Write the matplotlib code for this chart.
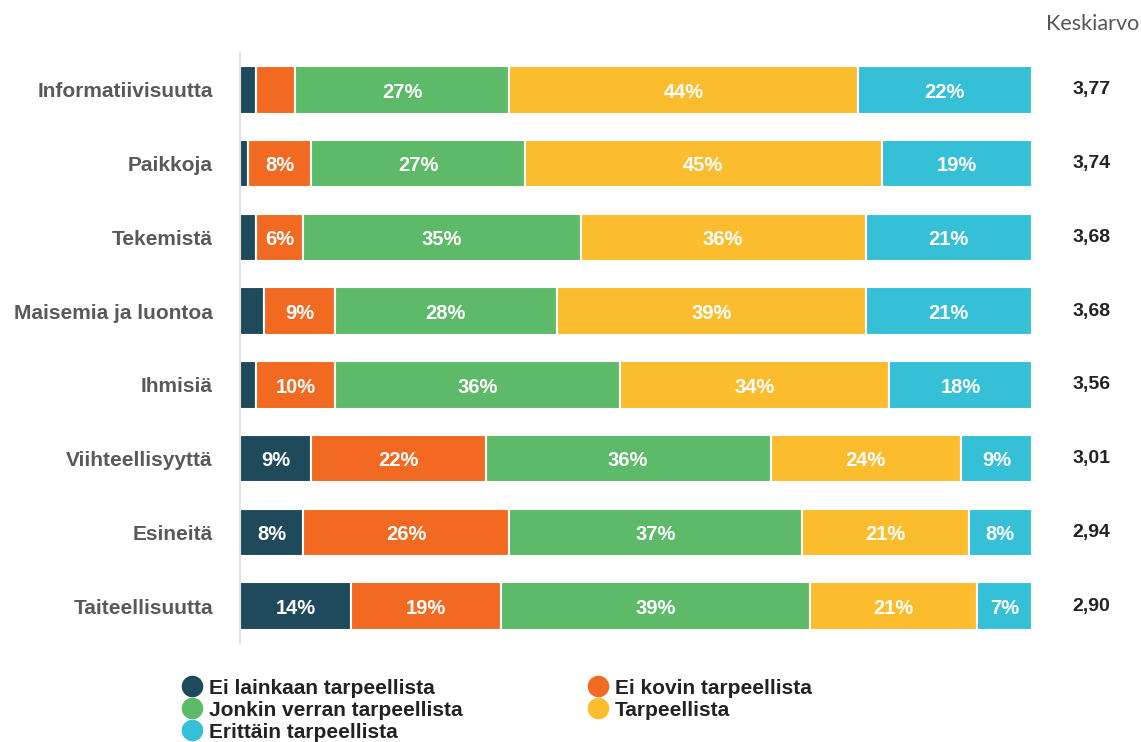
import numpy as np
import matplotlib.pyplot as plt
from matplotlib.lines import Line2D

# Data
kategoriat = ["Informatiivisuutta", "Paikkoja", "Tekemistä", "Maisemia ja luontoa",
              "Ihmisiä", "Viihteellisyyttä", "Esineitä", "Taiteellisuutta"]
sarjat = ["Ei lainkaan tarpeellista", "Ei kovin tarpeellista", "Jonkin verran tarpeellista",
          "Tarpeellista", "Erittäin tarpeellista"]
ei_lainkaan = [2, 1, 2, 3, 2, 9, 8, 14]
ei_kovin = [5, 8, 6, 9, 10, 22, 26, 19]
jonkin_verran = [27, 27, 35, 28, 36, 36, 37, 39]
tarpeellista = [44, 45, 36, 39, 34, 24, 21, 21]
erittain = [22, 19, 21, 21, 18, 9, 8, 7]
keskiarvo = ["3,77", "3,74", "3,68", "3,68", "3,56", "3,01", "2,94", "2,90"]

varit = ["#1f4a5c", "#f26a21", "#5cba68", "#fbbd2e", "#35c0d8"]
arvot = [ei_lainkaan, ei_kovin, jonkin_verran, tarpeellista, erittain]

plt.rcParams['font.family'] = ['Liberation Sans', 'DejaVu Sans']

fig = plt.figure(figsize=(11.41, 7.42), dpi=100)
ax = fig.add_axes([240/1141, 1 - 643/742, 792/1141, 590/742])

y = np.arange(len(kategoriat))
vasen = np.zeros(len(kategoriat))
for nimi, vals, vari in zip(sarjat, arvot, varit):
    vals = np.array(vals)
    ax.barh(y, vals, left=vasen, height=0.645, color=vari, edgecolor="white",
            linewidth=1.5, label=nimi)
    for yi, v, l in zip(y, vals, vasen):
        if v >= 6:
            ax.text(l + v / 2, yi + 0.03, f"{v}%", ha="center", va="center", color="white",
                    fontsize=14.5, fontweight="bold")
    vasen += vals

ax.set_xlim(0, 100)
ax.set_ylim(len(kategoriat) - 0.5, -0.5)
ax.set_yticks(y)
ax.set_yticklabels(kategoriat, fontsize=15, fontweight="bold", color="#595959")
ax.tick_params(axis="y", length=0, pad=19.5)
ax.set_xticks([])
for s in ["top", "right", "bottom"]:
    ax.spines[s].set_visible(False)
ax.spines["left"].set_color("#d8dde3")
ax.spines["left"].set_linewidth(1.2)

# Keskiarvo column
for yi, k in zip(y, keskiarvo):
    ax.text(107.5, yi, k, ha="center", va="center", fontsize=14, fontweight="bold",
            color="#222222", clip_on=False)
fig.text(1093/1141, 1 - 24/742, "Keskiarvo", ha="center", va="center", fontsize=15.5,
         color="#555555", family=["Lato", "DejaVu Sans"])

# Legend
jarjestys = [0, 2, 4, 1, 3]
kahvat = [Line2D([], [], marker="o", linestyle="", markersize=14.5, color=varit[i]) for i in jarjestys]
fig.legend(kahvat, [sarjat[i] for i in jarjestys], ncol=2, loc="upper left",
           bbox_to_anchor=(163/1141, 1 - 660/742), frameon=False, handletextpad=0.3,
           labelspacing=0.14, columnspacing=6.0, handlelength=1.0,
           prop={"size": 15, "weight": "bold"}, labelcolor="#222222")

plt.savefig("out.png", dpi=100)
